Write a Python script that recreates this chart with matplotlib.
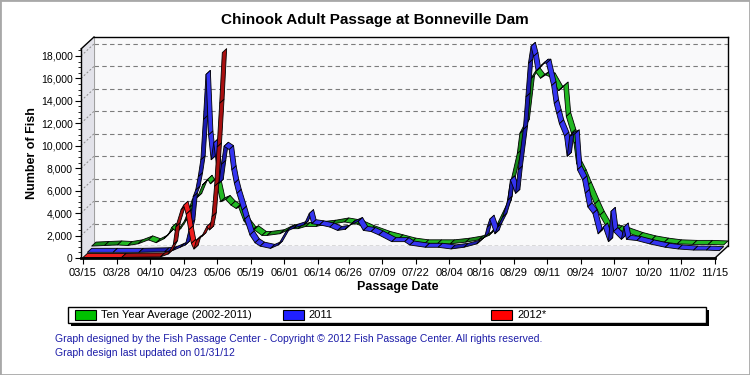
import numpy as np
import matplotlib.pyplot as plt
from matplotlib.collections import PolyCollection
from matplotlib.patches import Polygon, Rectangle
from matplotlib.lines import Line2D
from matplotlib.ticker import FuncFormatter, MultipleLocator

plt.rcParams['font.family'] = ['Liberation Sans', 'DejaVu Sans']

title = 'Chinook Adult Passage at Bonneville Dam'
tick_labels = ['03/15', '03/28', '04/10', '04/23', '05/06', '05/19', '06/01', '06/14',
               '06/26', '07/09', '07/22', '08/04', '08/16', '08/29', '09/11', '09/24',
               '10/07', '10/20', '11/02', '11/15']

# days counted from 03/15
avg_days = [0, 5, 10, 14, 18, 22, 25, 28, 30, 31, 33, 36, 38, 39, 41, 43, 45, 46, 48, 50,
            52, 54, 56, 57, 59, 62, 63, 66, 68, 73, 77, 80, 83, 87, 89, 93, 98, 103, 108, 114,
            119, 124, 129, 134, 139, 145, 150, 154, 157, 161, 162, 165, 166, 168, 170, 172, 174, 176, 178, 181,
            183, 184, 186, 187, 188, 190, 192, 195, 197, 200, 204, 207, 212, 217, 222, 227, 233, 239, 245]
avg_vals = [350, 400, 450, 400, 550, 900, 650, 1000, 1500, 2000, 1600, 2600, 3800, 4500, 4700, 5800, 6300, 5900, 6400, 4300,
            4500, 4000, 3700, 3800, 2600, 1700, 1800, 1300, 1300, 1450, 1900, 1900, 2100, 2100, 2200, 2300, 2500, 2300, 1800, 1300,
            1000, 700, 550, 550, 550, 700, 900, 1300, 2200, 4100, 5600, 8600, 10400, 11300, 15200, 15900, 15300, 15600, 15400, 14200,
            14600, 11900, 10400, 9500, 7700, 6800, 5700, 4100, 3100, 1900, 1800, 1600, 1200, 900, 700, 550, 500, 500, 450]

y2011_days = [0, 10, 20, 30, 33, 36, 38, 40, 41, 42, 43, 44, 45, 46, 47, 48, 49, 50, 51, 52,
              53, 55, 56, 57, 58, 60, 61, 63, 65, 67, 71, 74, 77, 80, 84, 86, 87, 90, 94, 97,
              100, 102, 105, 107, 110, 113, 118, 123, 125, 131, 136, 141, 146, 151, 154, 155, 156, 158, 159, 161,
              163, 164, 166, 167, 169, 170, 171, 172, 173, 174, 176, 177, 178, 180, 181, 182, 183, 185, 186, 187,
              189, 190, 192, 193, 194, 196, 198, 200, 202, 203, 204, 207, 208, 209, 213, 218, 224, 229, 235, 240, 245]
y2011_vals = [150, 150, 150, 200, 300, 600, 800, 2700, 5100, 5700, 6900, 8400, 12000, 16000, 10600, 8400, 9900, 8100, 6300, 8000,
              9600, 9300, 7500, 6300, 5400, 3900, 3100, 1700, 1000, 700, 500, 800, 2000, 2300, 2600, 3600, 2700, 2600, 2400, 2100,
              2200, 2600, 2900, 2100, 2000, 1700, 1100, 1100, 800, 600, 600, 450, 600, 900, 1500, 2400, 3100, 1800, 2400, 3300,
              4800, 6600, 5400, 7500, 11100, 14000, 17000, 18500, 17600, 16300, 16800, 17000, 17000, 15000, 13400, 12500, 11600, 10500, 8700, 10500,
              10700, 7500, 6600, 5400, 4200, 3600, 1800, 2400, 1100, 3800, 2000, 1300, 2400, 1300, 1200, 900, 600, 450, 350, 350, 300]

y2012_days = [0, 15, 30, 33, 35, 36, 38, 39, 40, 41, 42, 43, 44, 46, 48, 49, 50, 51, 52, 53, 54]
y2012_vals = [50, 50, 100, 350, 1200, 2800, 4300, 4700, 3900, 2500, 1300, 800, 1600, 1900, 2800, 2500, 3700, 6400, 9900, 13800, 18300]

series_names = ['Ten Year Average (2002-2011)', '2011', '2012*']
light_colors = ['#22b822', '#3434f0', '#ee1c1c']
dark_colors = ['#178a17', '#1c1cb0', '#a81010']

start = np.datetime64('2011-03-15')
tick_days = [int((np.datetime64('2011-' + t.replace('/', '-')) - start).astype(int)) for t in tick_labels]

W, H = 750, 375
fig = plt.figure(figsize=(7.5, 3.75), dpi=100)
fig.patch.set_facecolor('white')

# front plane (image px) and depth offset
FL, FR, FB, FT = 81, 715, 258, 49
DX, DY = 13, 12
PW, PH = FR - FL, FB - FT
XMIN, XMAX, YMAX = -0.78, 245, 18620


def P(x, y):
    return (x / W, 1 - y / H)


back = fig.add_axes([(FL + DX) / W, (H - FB + DY) / H, PW / W, PH / H], zorder=0)
front = fig.add_axes([FL / W, (H - FB) / H, PW / W, PH / H], zorder=2)
for a in (back, front):
    a.set_xlim(XMIN, XMAX)
    a.set_ylim(0, YMAX)

# back wall
back.set_facecolor('#f9f9fa')
back.set_xticks([])
back.set_yticks([])
back.spines['bottom'].set_visible(False)
back.spines['left'].set_color('#a0a0a0')
back.spines['left'].set_linewidth(0.8)
for s in ('top', 'right'):
    back.spines[s].set_color('black')
    back.spines[s].set_linewidth(1)
for v in range(2000, 18001, 2000):
    back.axhline(v, color='#7c7c7c', ls=(0, (4, 3)), lw=0.8)
back.axhline(0, color='black', ls=(0, (3, 2)), lw=0.9)

# side wall and floor
fig.add_artist(Polygon([P(FL, FB), P(FL, FT), P(FL + DX, FT - DY), P(FL + DX, FB - DY)],
                       closed=True, transform=fig.transFigure, fc='#e2e2e9', ec='none', zorder=0.5))
fig.add_artist(Polygon([P(FL, FB), P(FR, FB), P(FR + DX, FB - DY), P(FL + DX, FB - DY)],
                       closed=True, transform=fig.transFigure, fc='#e8e8ee', ec='none', zorder=0.5))
for v in range(2000, 18001, 2000):
    yy = FB - v * PH / YMAX
    fig.add_artist(Line2D([FL / W, (FL + DX) / W], [1 - yy / H, 1 - (yy - DY) / H],
                          transform=fig.transFigure, color='#8a8a8a', lw=0.7, ls=(0, (2, 2)), zorder=0.6))
fig.add_artist(Line2D([FL / W, (FL + DX) / W], [1 - FT / H, 1 - (FT - DY) / H],
                      transform=fig.transFigure, color='black', lw=1, zorder=0.6))
fig.add_artist(Line2D([FR / W, (FR + DX) / W], [1 - FB / H, 1 - (FB - DY) / H],
                      transform=fig.transFigure, color='black', lw=1, zorder=0.6))

# front axes
front.patch.set_visible(False)
front.spines['top'].set_visible(False)
front.spines['right'].set_visible(False)
front.spines['left'].set_linewidth(1)
front.spines['bottom'].set_linewidth(2)
front.set_xticks(tick_days)
front.set_xticklabels(tick_labels)
front.set_yticks(range(0, 18001, 2000))
front.yaxis.set_major_formatter(FuncFormatter(lambda v, p: '{:,.0f}'.format(v)))
front.yaxis.set_minor_locator(MultipleLocator(500))
front.tick_params(axis='x', length=4, pad=3, labelsize=8)
front.tick_params(axis='y', which='major', length=4, pad=2, labelsize=7.5)
front.tick_params(axis='y', which='minor', length=2)

px_day = PW / (XMAX - XMIN)
px_val = PH / YMAX
sx, sy = DX / px_day, DY / px_val


def ribbon(ax, days, vals, f0, f1, light, dark):
    polys, cols = [], []
    o0 = ((1 - f0) * sx, (1 - f0) * sy)
    o1 = ((1 - f1) * sx, (1 - f1) * sy)
    for i in range(len(days) - 1):
        xa, xb, ya, yb = days[i], days[i + 1], vals[i], vals[i + 1]
        polys.append([(xa + o0[0], ya + o0[1]), (xb + o0[0], yb + o0[1]),
                      (xb + o1[0], yb + o1[1]), (xa + o1[0], ya + o1[1])])
        cols.append(dark if yb > ya else light)
    pc = PolyCollection(polys, facecolors=cols, edgecolors='black', linewidths=0.6)
    pc.set_clip_on(False)
    ax.add_collection(pc)


ribbon(front, avg_days, avg_vals, 0.0, 1 / 3, light_colors[0], dark_colors[0])
ribbon(front, y2011_days, y2011_vals, 1 / 3, 2 / 3, light_colors[1], dark_colors[1])
ribbon(front, y2012_days, y2012_vals, 2 / 3, 1.0, light_colors[2], dark_colors[2])

# titles
fig.text(375 / W, 1 - 20 / H, title, ha='center', va='center', fontsize=11, fontweight='bold')
fig.text(398 / W, 1 - 287 / H, 'Passage Date', ha='center', va='center', fontsize=9, fontweight='bold')
fig.text(32 / W, 1 - 153 / H, 'Number of Fish', ha='center', va='center', rotation=90,
         fontsize=9, fontweight='bold')


def rect(x, y, w, h, **kw):
    return Rectangle((x / W, 1 - (y + h) / H), w / W, h / H, transform=fig.transFigure, **kw)


# legend
fig.add_artist(rect(71, 310, 638, 16, fc='black', ec='none'))
fig.add_artist(rect(68, 307, 638, 16, fc='white', ec='black', lw=1))
for name, c, px, tx in zip(series_names, ['#00c000', '#2020ff', '#ff0000'], [75, 283, 491], [101, 308, 517]):
    fig.add_artist(rect(px, 310, 21, 10, fc=c, ec='black', lw=0.8))
    fig.text(tx / W, 1 - 315.5 / H, name, ha='left', va='center', fontsize=8)

fig.text(55 / W, 1 - 339 / H,
         'Graph designed by the Fish Passage Center - Copyright \u00a9 2012 Fish Passage Center. All rights reserved.',
         ha='left', va='center', fontsize=7.5, color='#1c1ca8')
fig.text(55 / W, 1 - 353 / H, 'Graph design last updated on 01/31/12',
         ha='left', va='center', fontsize=7.5, color='#1c1ca8')

fig.add_artist(Rectangle((0, 0), 1, 1, transform=fig.transFigure, fc='none', ec='#a8a8a8', lw=2))

fig.savefig('out.png', dpi=100)
